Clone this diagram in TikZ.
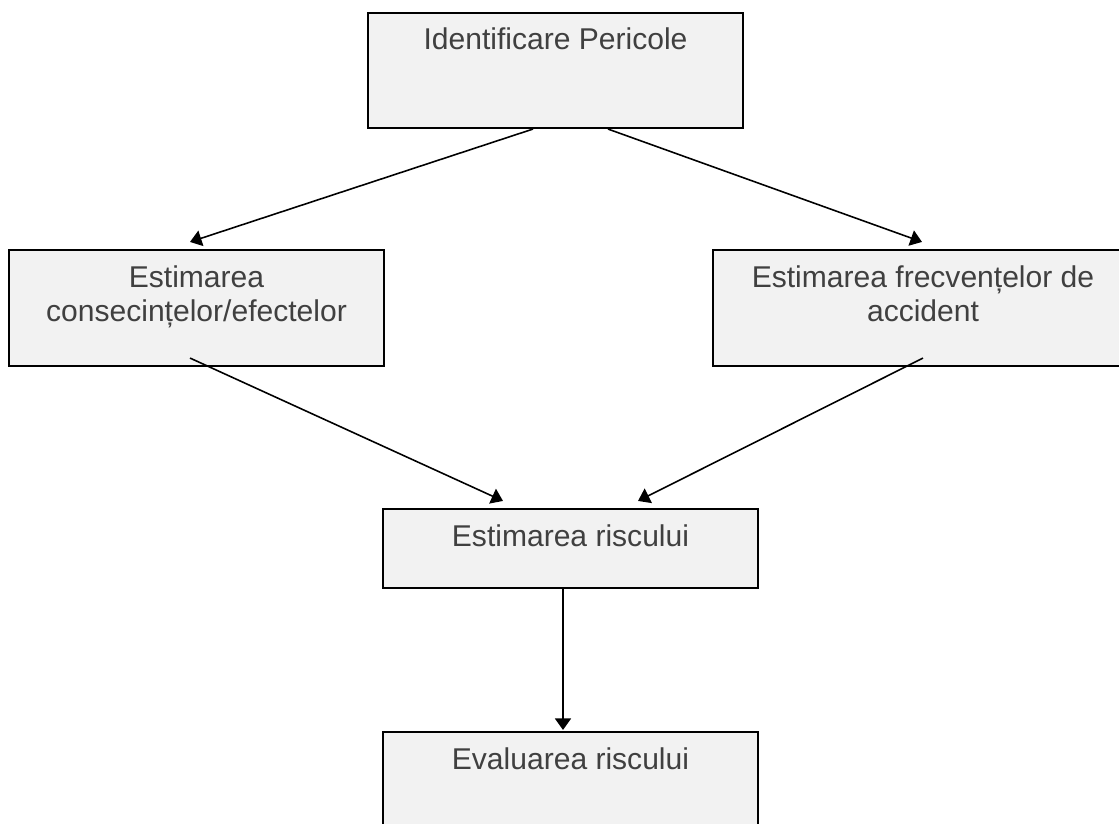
\documentclass[tikz,border=0pt]{standalone}
\usepackage{fontspec}
\setmainfont{Liberation Sans}
\usepackage{tikz}
\usetikzlibrary{positioning, calc, arrows.meta}

\definecolor{fundal}{HTML}{F2F2F2}
\definecolor{scris}{HTML}{404040}
% text lipit sus in cutie: latime, inaltime, text
\newcommand{\cutie}[3]{\parbox[c][#2][t]{#1}{\centering\rule{0pt}{0.74cm}#3}}

\begin{document}
\begin{tikzpicture}[>={Triangle[length=2.3mm,width=3.2mm]}, line width=0.9pt,
	etapa/.style={draw=black, line width=1.2pt, fill=fundal, inner sep=0pt, text=scris, font=\fontsize{17.1}{19.8}\selectfont} ]
			\useasboundingbox (0,0) rectangle (22.38,-16.46);

			\node[etapa]	(P) at (11.11,-1.41)	{\cutie{7.5cm}{2.3cm}{Identificare Pericole}};
			\node[etapa]	(C) at (3.93,-6.16)		{\cutie{7.5cm}{2.32cm}{Estimarea\\consecințelor/efectelor}};
			\node[etapa]	(F) at (18.46,-6.16)	{\cutie{8.4cm}{2.32cm}{Estimarea frecvențelor de\\accident}};
			\node[etapa]	(R) at (11.41,-10.97)	{\cutie{7.5cm}{1.58cm}{Estimarea riscului}};
			\node[etapa]	(V) at (11.41,-15.79)	{\cutie{7.5cm}{2.3cm}{Evaluarea riscului}};

			%Legaturi:
			%(Sursa) edge (Destinatie)
			\path[->]
			([xshift=-0.45cm]P.south)				edge ([xshift=-0.13cm,yshift=0.14cm]C.north)
			([xshift=1.05cm]P.south)				edge ([xshift=-0.02cm,yshift=0.14cm]F.north)
			([xshift=-0.13cm,yshift=0.18cm]C.south)	edge ([xshift=-1.35cm,yshift=0.14cm]R.north)
			([yshift=0.18cm]F.south)				edge ([xshift=1.35cm,yshift=0.14cm]R.north)
			([xshift=-0.15cm]R.south)				edge ([xshift=-0.15cm,yshift=0.02cm]V.north);
		\end{tikzpicture}
\end{document}
